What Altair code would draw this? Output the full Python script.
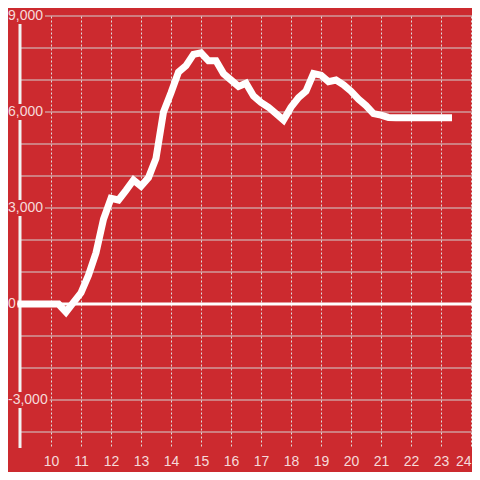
import altair as alt
import pandas as pd

# ---- data ----
hours = [9.0, 9.25, 9.5, 9.75, 10.0, 10.25, 10.5, 10.75, 11.0, 11.25, 11.5, 11.75,
         12.0, 12.25, 12.5, 12.75, 13.0, 13.25, 13.5, 13.75, 14.0, 14.25, 14.5, 14.75,
         15.0, 15.25, 15.5, 15.75, 16.0, 16.25, 16.5, 16.75, 17.0, 17.25, 17.5, 17.75,
         18.0, 18.25, 18.5, 18.75, 19.0, 19.25, 19.5, 19.75, 20.0, 20.25, 20.5, 20.75,
         21.0, 21.25, 21.5, 21.75, 22.0, 22.25, 22.5, 22.75, 23.0, 23.25]
values = [0, 0, 0, 0, 0, 0, -250, 50, 350, 900, 1600, 2650,
          3300, 3250, 3550, 3875, 3680, 3950, 4550, 6000, 6600, 7250, 7450, 7800,
          7850, 7600, 7600, 7200, 7000, 6800, 6900, 6500, 6300, 6150, 5950, 5750,
          6150, 6450, 6650, 7200, 7150, 6950, 7000, 6850, 6650, 6400, 6200, 5950,
          5900, 5830, 5820, 5820, 5820, 5820, 5820, 5820, 5820, 5820]
y_label_values = [9000, 6000, 3000, 0, -3000]
y_label_texts = ["9,000", "6,000", "3,000", "0", "-3,000"]
grid_values = [9000, 8000, 7000, 6000, 5000, 4000, 3000, 2000, 1000, 0,
               -1000, -2000, -3000, -4000]
x_ticks = [10, 11, 12, 13, 14, 15, 16, 17, 18, 19, 20, 21, 22, 23, 24]

# ---- styles ----
BG = "#cc2a2f"
LABEL_COLOR = "#f6dada"
GRID_COLOR = "#d2d2d2"
VGRID_COLOR = "#dedede"
FONT = "Liberation Sans"
FS = 14
W, H = 464, 432
X_DOMAIN = [8.5667, 24.0333]
Y_DOMAIN = [-4500, 9000]
AXIS_PX = 12          # vertical axis line position (pixels in plot)
GAP = 250             # half height of label gap on axis line (data units)

xs = alt.Scale(domain=X_DOMAIN, nice=False, zero=False)
ys = alt.Scale(domain=Y_DOMAIN, nice=False, zero=False)

def text_width(s):
    w = 0.0
    for ch in s:
        if ch.isdigit():
            w += 0.556
        elif ch == ",":
            w += 0.278
        elif ch == "-":
            w += 0.333
        else:
            w += 0.5
    return w * FS

layers = []

# unlabeled horizontal gridlines
plain = [v for v in grid_values if v not in y_label_values]
layers.append(
    alt.Chart(pd.DataFrame({"v": plain})).mark_rule(color=GRID_COLOR, strokeWidth=1).encode(
        y=alt.Y("v:Q", scale=ys, axis=None), x=alt.value(AXIS_PX), x2=alt.value(W))
)
# labeled gridlines start after their label
for v, t in zip(y_label_values, y_label_texts):
    if v == 0:
        continue
    layers.append(
        alt.Chart(pd.DataFrame({"v": [v]})).mark_rule(color=GRID_COLOR, strokeWidth=1).encode(
            y=alt.Y("v:Q", scale=ys, axis=None),
            x=alt.value(text_width(t) + 2), x2=alt.value(W))
    )

# vertical axis line, broken behind labels
segs = []
top = Y_DOMAIN[1]
for v in sorted([v for v in y_label_values if v != 0], reverse=True):
    hi, lo = top, v + GAP
    if hi > lo:
        segs.append((hi, lo))
    top = v - GAP
segs.append((top, Y_DOMAIN[0]))
seg_df = pd.DataFrame({"y1": [s[0] for s in segs], "y2": [s[1] for s in segs]})
layers.append(
    alt.Chart(seg_df).mark_rule(color="#f2f2f2", strokeWidth=3).encode(
        y=alt.Y("y1:Q", scale=ys, axis=None), y2="y2:Q", x=alt.value(AXIS_PX))
)

# zero line
layers.append(
    alt.Chart(pd.DataFrame({"v": [0]})).mark_rule(color="white", strokeWidth=3).encode(
        y=alt.Y("v:Q", scale=ys, axis=None),
        x=alt.value(text_width("0") + 1.5), x2=alt.value(W))
)

# data line
line_df = pd.DataFrame({"hour": hours, "value": values})
layers.append(
    alt.Chart(line_df).mark_line(color="white", strokeWidth=7, strokeCap="square").encode(
        x=alt.X("hour:Q", scale=xs,
                axis=alt.Axis(values=x_ticks, format="d", grid=True, gridDash=[2, 2],
                              gridColor=VGRID_COLOR, gridWidth=1, ticks=False, tickSize=0,
                              domain=False, labelFontSize=FS, labelColor=LABEL_COLOR,
                              labelFont=FONT, labelPadding=6, title=None, labelFlush=2)),
        y=alt.Y("value:Q", scale=ys, axis=None))
)

# y labels
lab_df = pd.DataFrame({"v": y_label_values, "label": y_label_texts})
layers.append(
    alt.Chart(lab_df).mark_text(align="left", baseline="middle", fontSize=FS, font=FONT,
                                color=LABEL_COLOR).encode(
        y=alt.Y("v:Q", scale=ys, axis=None), x=alt.value(0), text="label:N")
)

chart = alt.layer(*layers).properties(
    width=W, height=H,
    autosize=alt.AutoSizeParams(type="none"),
    padding={"left": 0, "top": 8, "right": 0, "bottom": 24},
    background=BG,
).configure_view(stroke=None)

chart.save("out.html", embed_options={"renderer": "svg", "actions": False})
